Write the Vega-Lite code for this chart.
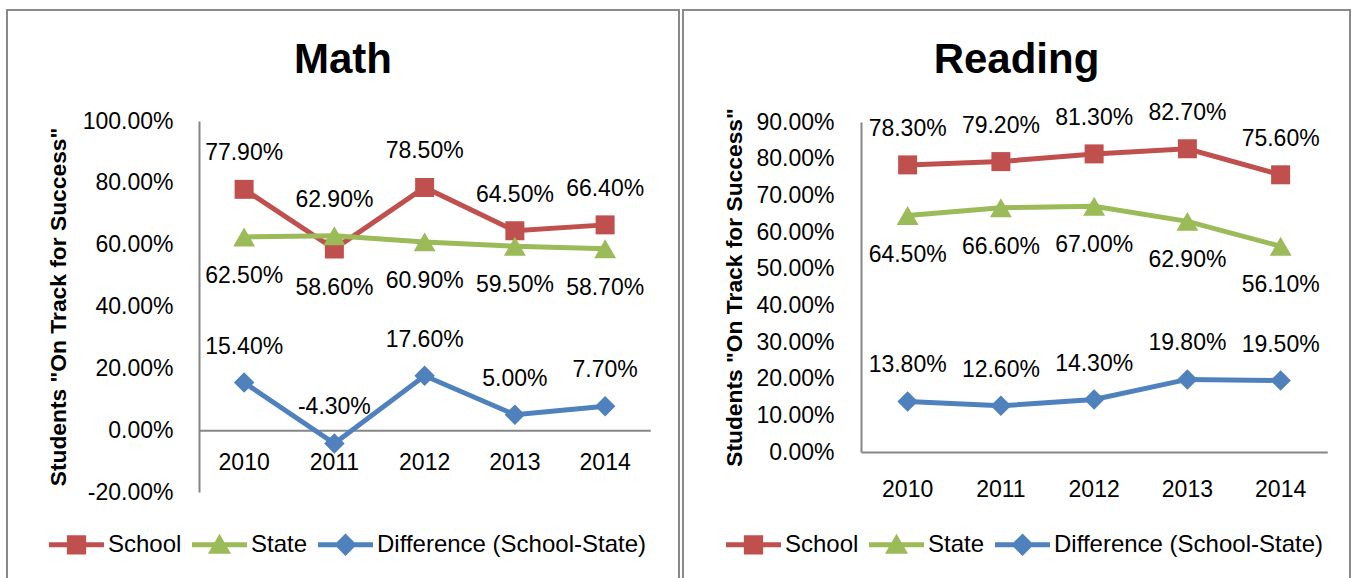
{
  "$schema": "https://vega.github.io/schema/vega-lite/v6.json",
  "padding": {"left": 6, "top": 9, "right": 0, "bottom": 0},
  "background": "white",
  "datasets": {
    "scores": [
      {"subject": "Math", "year": "2010", "series": "School", "value": 0.779},
      {"subject": "Math", "year": "2011", "series": "School", "value": 0.586},
      {"subject": "Math", "year": "2012", "series": "School", "value": 0.785},
      {"subject": "Math", "year": "2013", "series": "School", "value": 0.645},
      {"subject": "Math", "year": "2014", "series": "School", "value": 0.664},
      {"subject": "Math", "year": "2010", "series": "State", "value": 0.625},
      {"subject": "Math", "year": "2011", "series": "State", "value": 0.629},
      {"subject": "Math", "year": "2012", "series": "State", "value": 0.609},
      {"subject": "Math", "year": "2013", "series": "State", "value": 0.595},
      {"subject": "Math", "year": "2014", "series": "State", "value": 0.587},
      {"subject": "Math", "year": "2010", "series": "Difference (School-State)", "value": 0.154},
      {"subject": "Math", "year": "2011", "series": "Difference (School-State)", "value": -0.043},
      {"subject": "Math", "year": "2012", "series": "Difference (School-State)", "value": 0.176},
      {"subject": "Math", "year": "2013", "series": "Difference (School-State)", "value": 0.05},
      {"subject": "Math", "year": "2014", "series": "Difference (School-State)", "value": 0.077},
      {"subject": "Reading", "year": "2010", "series": "School", "value": 0.783},
      {"subject": "Reading", "year": "2011", "series": "School", "value": 0.792},
      {"subject": "Reading", "year": "2012", "series": "School", "value": 0.813},
      {"subject": "Reading", "year": "2013", "series": "School", "value": 0.827},
      {"subject": "Reading", "year": "2014", "series": "School", "value": 0.756},
      {"subject": "Reading", "year": "2010", "series": "State", "value": 0.645},
      {"subject": "Reading", "year": "2011", "series": "State", "value": 0.666},
      {"subject": "Reading", "year": "2012", "series": "State", "value": 0.67},
      {"subject": "Reading", "year": "2013", "series": "State", "value": 0.629},
      {"subject": "Reading", "year": "2014", "series": "State", "value": 0.561},
      {"subject": "Reading", "year": "2010", "series": "Difference (School-State)", "value": 0.138},
      {"subject": "Reading", "year": "2011", "series": "Difference (School-State)", "value": 0.126},
      {"subject": "Reading", "year": "2012", "series": "Difference (School-State)", "value": 0.143},
      {"subject": "Reading", "year": "2013", "series": "Difference (School-State)", "value": 0.198},
      {"subject": "Reading", "year": "2014", "series": "Difference (School-State)", "value": 0.195}
    ]
  },
  "spacing": 4,
  "bounds": "flush",
  "resolve": {
    "scale": {"x": "independent", "y": "independent", "color": "independent"},
    "legend": {"color": "independent"}
  },
  "hconcat": [
    {
      "width": 672,
      "height": 580,
      "data": {"name": "scores"},
      "transform": [{"filter": "datum.subject === 'Math'"}],
      "title": {"text": "Math", "fontSize": 42, "fontWeight": "bold", "font": "Liberation Sans", "color": "black", "anchor": "middle", "frame": "group", "offset": 0, "dy": 105, "baseline": "alphabetic"},
      "encoding": {
        "x": {
          "field": "year", "type": "ordinal",
          "scale": {"type": "band", "range": [192, 643.25], "paddingInner": 0, "paddingOuter": 0},
          "axis": {"orient": "bottom", "offset": -159.8, "title": null, "labelAngle": 0, "ticks": false, "domainColor": "#868686", "domainWidth": 2, "labelFontSize": 23, "labelColor": "black", "labelPadding": 21, "labelFont": "Liberation Sans"}
        },
        "y": {
          "field": "value", "type": "quantitative",
          "scale": {"domain": [-0.2, 1], "range": [482, 111], "nice": false, "zero": false},
          "axis": {"orient": "left", "offset": -192, "values": [-0.2, 0, 0.2, 0.4, 0.6, 0.8, 1], "format": ".2%", "grid": false, "ticks": false, "domainColor": "#868686", "domainWidth": 2, "labelFontSize": 23, "labelColor": "black", "labelPadding": 26, "labelFont": "Liberation Sans", "labelFlush": false, "labelOverlap": false, "title": "Students \"On Track for Success\"", "titleFontSize": 22.8, "titleFont": "Liberation Sans", "titleFontWeight": "bold", "titleColor": "black", "titlePadding": 12}
        },
        "color": {
          "field": "series", "type": "nominal",
          "scale": {"domain": ["School", "State", "Difference (School-State)"], "range": ["#C0504D", "#9BBB59", "#4F81BD"]},
          "legend": {
            "orient": "none", "legendX": 42, "legendY": 507, "direction": "horizontal", "title": null,
            "labelFontSize": 24, "labelFont": "Liberation Sans", "labelColor": "black", "labelLimit": 0,
            "symbolSize": 3025, "labelOffset": 4, "columnPadding": 10, "padding": 0,
            "encode": {"symbols": {"update": {
              "shape": {"signal": "datum.value === 'School' ? 'M-1,-0.09H1V0.09H-1Z M-0.35,-0.35H0.35V0.35H-0.35Z' : datum.value === 'State' ? 'M-1,-0.09H1V0.09H-1Z M0,-0.4L0.42,0.33L-0.42,0.33Z' : 'M-1,-0.09H1V0.09H-1Z M0,-0.41L0.41,0L0,0.41L-0.41,0Z'"},
              "fill": {"signal": "datum.value === 'School' ? '#C0504D' : datum.value === 'State' ? '#9BBB59' : '#4F81BD'"},
              "stroke": {"value": "transparent"},
              "strokeWidth": {"value": 0},
              "opacity": {"value": 1},
              "size": {"value": 3025}
            }}}
          }
        }
      },
      "layer": [
        {"mark": {"type": "line", "strokeWidth": 5}},
        {"transform": [{"filter": "datum.series === 'School'"}], "mark": {"type": "point", "shape": "square", "size": 361, "filled": true, "opacity": 1}},
        {"transform": [{"filter": "datum.series === 'State'"}], "mark": {"type": "point", "shape": "triangle-up", "size": 480, "filled": true, "opacity": 1}},
        {"transform": [{"filter": "datum.series === 'Difference (School-State)'"}], "mark": {"type": "point", "shape": "diamond", "size": 420, "filled": true, "opacity": 1}},
        {
          "transform": [
            {"filter": "datum.series !== 'Difference (School-State)'"},
            {"window": [{"op": "row_number", "as": "rk"}], "groupby": ["year"], "sort": [{"field": "value", "order": "descending"}]},
            {"filter": "datum.rk === 1"}
          ],
          "mark": {"type": "text", "dy": -36, "baseline": "middle", "fontSize": 23, "font": "Liberation Sans"},
          "encoding": {"text": {"field": "value", "type": "quantitative", "format": ".2%"}, "color": {"value": "black"}}
        },
        {
          "transform": [
            {"filter": "datum.series !== 'Difference (School-State)'"},
            {"window": [{"op": "row_number", "as": "rk"}], "groupby": ["year"], "sort": [{"field": "value", "order": "descending"}]},
            {"filter": "datum.rk === 2"}
          ],
          "mark": {"type": "text", "dy": 39, "baseline": "middle", "fontSize": 23, "font": "Liberation Sans"},
          "encoding": {"text": {"field": "value", "type": "quantitative", "format": ".2%"}, "color": {"value": "black"}}
        },
        {
          "transform": [{"filter": "datum.series === 'Difference (School-State)'"}],
          "mark": {"type": "text", "dy": -36, "baseline": "middle", "fontSize": 23, "font": "Liberation Sans"},
          "encoding": {"text": {"field": "value", "type": "quantitative", "format": ".2%"}, "color": {"value": "black"}}
        }
      ]
    },
    {
      "width": 667,
      "height": 580,
      "data": {"name": "scores"},
      "transform": [{"filter": "datum.subject === 'Reading'"}],
      "title": {"text": "Reading", "fontSize": 42, "fontWeight": "bold", "font": "Liberation Sans", "color": "black", "anchor": "middle", "frame": "group", "offset": 0, "dy": 105, "baseline": "alphabetic"},
      "encoding": {
        "x": {
          "field": "year", "type": "ordinal",
          "scale": {"type": "band", "range": [178, 644.25], "paddingInner": 0, "paddingOuter": 0},
          "axis": {"orient": "bottom", "offset": -138, "title": null, "labelAngle": 0, "ticks": false, "domainColor": "#868686", "domainWidth": 2, "labelFontSize": 23, "labelColor": "black", "labelPadding": 26, "labelFont": "Liberation Sans"}
        },
        "y": {
          "field": "value", "type": "quantitative",
          "scale": {"domain": [0, 0.9], "range": [442, 112], "nice": false, "zero": false},
          "axis": {"orient": "left", "offset": -178, "values": [0, 0.1, 0.2, 0.3, 0.4, 0.5, 0.6, 0.7, 0.8, 0.9], "format": ".2%", "grid": false, "ticks": false, "domainColor": "#868686", "domainWidth": 2, "labelFontSize": 23, "labelColor": "black", "labelPadding": 27, "labelFont": "Liberation Sans", "labelFlush": false, "labelOverlap": false, "title": "Students \"On Track for Success\"", "titleFontSize": 22.8, "titleFont": "Liberation Sans", "titleFontWeight": "bold", "titleColor": "black", "titlePadding": 9}
        },
        "color": {
          "field": "series", "type": "nominal",
          "scale": {"domain": ["School", "State", "Difference (School-State)"], "range": ["#C0504D", "#9BBB59", "#4F81BD"]},
          "legend": {
            "orient": "none", "legendX": 43, "legendY": 507, "direction": "horizontal", "title": null,
            "labelFontSize": 24, "labelFont": "Liberation Sans", "labelColor": "black", "labelLimit": 0,
            "symbolSize": 3025, "labelOffset": 4, "columnPadding": 10, "padding": 0,
            "encode": {"symbols": {"update": {
              "shape": {"signal": "datum.value === 'School' ? 'M-1,-0.09H1V0.09H-1Z M-0.35,-0.35H0.35V0.35H-0.35Z' : datum.value === 'State' ? 'M-1,-0.09H1V0.09H-1Z M0,-0.4L0.42,0.33L-0.42,0.33Z' : 'M-1,-0.09H1V0.09H-1Z M0,-0.41L0.41,0L0,0.41L-0.41,0Z'"},
              "fill": {"signal": "datum.value === 'School' ? '#C0504D' : datum.value === 'State' ? '#9BBB59' : '#4F81BD'"},
              "stroke": {"value": "transparent"},
              "strokeWidth": {"value": 0},
              "opacity": {"value": 1},
              "size": {"value": 3025}
            }}}
          }
        }
      },
      "layer": [
        {"mark": {"type": "line", "strokeWidth": 5}},
        {"transform": [{"filter": "datum.series === 'School'"}], "mark": {"type": "point", "shape": "square", "size": 361, "filled": true, "opacity": 1}},
        {"transform": [{"filter": "datum.series === 'State'"}], "mark": {"type": "point", "shape": "triangle-up", "size": 480, "filled": true, "opacity": 1}},
        {"transform": [{"filter": "datum.series === 'Difference (School-State)'"}], "mark": {"type": "point", "shape": "diamond", "size": 420, "filled": true, "opacity": 1}},
        {
          "transform": [
            {"filter": "datum.series !== 'Difference (School-State)'"},
            {"window": [{"op": "row_number", "as": "rk"}], "groupby": ["year"], "sort": [{"field": "value", "order": "descending"}]},
            {"filter": "datum.rk === 1"}
          ],
          "mark": {"type": "text", "dy": -36, "baseline": "middle", "fontSize": 23, "font": "Liberation Sans"},
          "encoding": {"text": {"field": "value", "type": "quantitative", "format": ".2%"}, "color": {"value": "black"}}
        },
        {
          "transform": [
            {"filter": "datum.series !== 'Difference (School-State)'"},
            {"window": [{"op": "row_number", "as": "rk"}], "groupby": ["year"], "sort": [{"field": "value", "order": "descending"}]},
            {"filter": "datum.rk === 2"}
          ],
          "mark": {"type": "text", "dy": 39, "baseline": "middle", "fontSize": 23, "font": "Liberation Sans"},
          "encoding": {"text": {"field": "value", "type": "quantitative", "format": ".2%"}, "color": {"value": "black"}}
        },
        {
          "transform": [{"filter": "datum.series === 'Difference (School-State)'"}],
          "mark": {"type": "text", "dy": -36, "baseline": "middle", "fontSize": 23, "font": "Liberation Sans"},
          "encoding": {"text": {"field": "value", "type": "quantitative", "format": ".2%"}, "color": {"value": "black"}}
        }
      ]
    }
  ],
  "config": {
    "view": {"stroke": "#8a8a8a", "strokeWidth": 2, "fill": "white"},
    "font": "Liberation Sans",
    "locale": {"number": {"decimal": ".", "thousands": ",", "grouping": [3], "currency": ["$", ""], "minus": "-"}}
  }
}
